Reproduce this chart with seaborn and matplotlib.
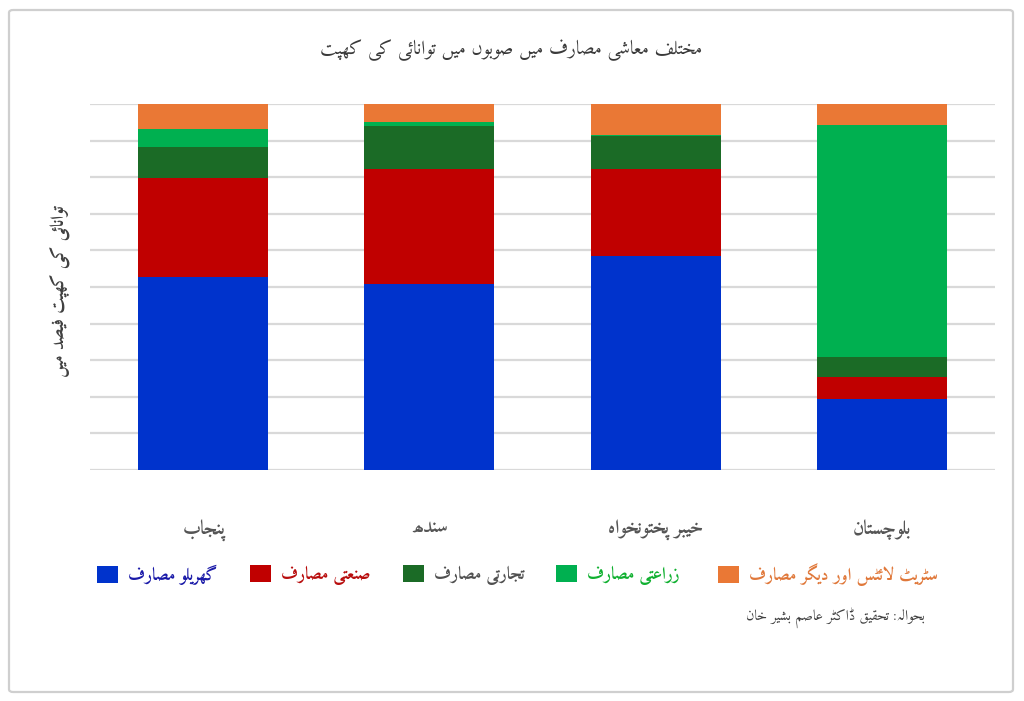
import matplotlib
matplotlib.use("Agg")
import matplotlib.pyplot as plt
from matplotlib.patches import FancyBboxPatch, Patch
import seaborn as sns
import numpy as np

# ---------------- data ----------------
categories = ["پنجاب", "سندھ", "خیبر پختونخواہ", "بلوچستان"]
series_names = ["گھریلو مصارف", "صنعتی مصارف", "تجارتی مصارف", "زراعتی مصارف",
                "سٹریٹ لائٹس اور دیگر مصارف"]
domestic = [52.8, 50.7, 58.6, 19.4]
industrial = [27.1, 31.5, 23.6, 5.9]
commercial = [8.3, 11.8, 9.1, 5.5]
agricultural = [5.1, 1.0, 0.2, 63.5]
other = [6.7, 5.0, 8.5, 5.7]
title = "مختلف معاشی مصارف میں صوبوں میں توانائی کی کھپت"
ylabel = "توانائی کی کھپت فیصد میں"
source = "بحوالہ: تحقیق ڈاکٹر عاصم بشیر خان"

bar_colors = ["#0033cc", "#c00000", "#1b6b26", "#00b050", "#ea7835"]
text_colors = ["#1a1aa8", "#b80d0d", "#505050", "#10b030", "#e0783a"]

# ---------------- minimal Arabic/Urdu shaping (matplotlib has no bidi) ----------------
F = {
    'ا': ('\uFE8D', '\uFE8E'), 'آ': ('\uFE81', '\uFE82'),
    'ب': ('\uFE8F', '\uFE90', '\uFE91', '\uFE92'), 'پ': ('\uFB56', '\uFB57', '\uFB58', '\uFB59'),
    'ت': ('\uFE95', '\uFE96', '\uFE97', '\uFE98'), 'ٹ': ('\uFB66', '\uFB67', '\uFB68', '\uFB69'),
    'ج': ('\uFE9D', '\uFE9E', '\uFE9F', '\uFEA0'), 'چ': ('\uFB7A', '\uFB7B', '\uFB7C', '\uFB7D'),
    'ح': ('\uFEA1', '\uFEA2', '\uFEA3', '\uFEA4'), 'خ': ('\uFEA5', '\uFEA6', '\uFEA7', '\uFEA8'),
    'د': ('\uFEA9', '\uFEAA'), 'ڈ': ('\uFB88', '\uFB89'),
    'ر': ('\uFEAD', '\uFEAE'), 'ڑ': ('\uFB8C', '\uFB8D'), 'ز': ('\uFEAF', '\uFEB0'),
    'س': ('\uFEB1', '\uFEB2', '\uFEB3', '\uFEB4'), 'ش': ('\uFEB5', '\uFEB6', '\uFEB7', '\uFEB8'),
    'ص': ('\uFEB9', '\uFEBA', '\uFEBB', '\uFEBC'), 'ع': ('\uFEC9', '\uFECA', '\uFECB', '\uFECC'),
    'ف': ('\uFED1', '\uFED2', '\uFED3', '\uFED4'), 'ق': ('\uFED5', '\uFED6', '\uFED7', '\uFED8'),
    'ک': ('\uFB8E', '\uFB8F', '\uFB90', '\uFB91'), 'گ': ('\uFB92', '\uFB93', '\uFB94', '\uFB95'),
    'ل': ('\uFEDD', '\uFEDE', '\uFEDF', '\uFEE0'), 'م': ('\uFEE1', '\uFEE2', '\uFEE3', '\uFEE4'),
    'ن': ('\uFEE5', '\uFEE6', '\uFEE7', '\uFEE8'), 'ں': ('\uFB9E', '\uFB9F', '\uFEE7', '\uFEE8'),
    'و': ('\uFEED', '\uFEEE'), 'ھ': ('\uFBAA', '\uFBAB', '\uFBAC', '\uFBAD'),
    'ہ': ('\uFBA6', '\uFBA7', '\uFBA8', '\uFBA9'), 'ی': ('\uFBFC', '\uFBFD', '\uFBFE', '\uFBFF'),
    'ئ': ('\uFE89', '\uFE8A', '\uFE8B', '\uFE8C'), 'ے': ('\uFBAE', '\uFBAF'),
}


def shape(text):
    """Contextual forms in logical order, then reversed to visual (RTL) order."""
    out = []
    i, n = 0, len(text)
    while i < n:
        c = text[i]
        prev = i > 0 and len(F.get(text[i - 1], ())) == 4
        if c == 'ل' and i + 1 < n and text[i + 1] == 'ا':
            out.append('\uFEFC' if prev else '\uFEFB')
            i += 2
            continue
        forms = F.get(c)
        if forms is None:
            out.append(c)
            i += 1
            continue
        nxt = len(forms) == 4 and i + 1 < n and text[i + 1] in F
        idx = 3 if (prev and nxt) else 1 if prev else 2 if nxt else 0
        out.append(forms[idx])
        i += 1
    return "".join(reversed(out))


# ---------------- figure ----------------
sns.set_theme(style="white")
FONT = ["Amiri", "DejaVu Sans"]
plt.rcParams["font.family"] = FONT

fig = plt.figure(figsize=(10.24, 7.01), dpi=100)
fig.patch.set_facecolor("white")
fig.patches.append(FancyBboxPatch((9 / 1024, 9 / 701), 1004 / 1024, 682 / 701,
                                  boxstyle="round,pad=0,rounding_size=0.004",
                                  transform=fig.transFigure, facecolor="none",
                                  edgecolor="#cfcfcf", linewidth=1.6, zorder=0))

ax = fig.add_axes([90 / 1024, 1 - 470 / 701, 905 / 1024, 366 / 701])
ax.set_facecolor("none")

cat_labels = [shape(c) for c in categories]
layers = [domestic, industrial, commercial, agricultural, other]
cum = np.cumsum(np.array(layers), axis=0)
for k in range(len(layers) - 1, -1, -1):
    sns.barplot(x=cat_labels, y=cum[k], color=bar_colors[k], saturation=1,
                width=0.575, ax=ax, zorder=3, linewidth=0)

ax.set_xlim(-0.5, 3.5)
ax.set_ylim(0, 100)
ax.set_yticks(np.arange(0, 101, 10))
ax.set_yticklabels([])
ax.yaxis.grid(True, color="#d9d9d9", linewidth=1.6, zorder=0)
ax.set_axisbelow(True)
for s in ax.spines.values():
    s.set_visible(False)
ax.tick_params(axis="both", length=0)
ax.tick_params(axis="x", pad=35)
for t in ax.get_xticklabels():
    t.set_fontsize(14)
    t.set_fontweight("bold")
    t.set_color("#555555")
ax.set_xlabel("")
ax.set_ylabel(shape(ylabel), fontsize=13, fontweight="bold", color="#404040")
ax.yaxis.set_label_coords(-0.022, 0.49)

fig.text(511 / 1024, 1 - 50 / 701, shape(title), ha="center", va="center",
         fontsize=14, color="#3a3a3a")

# legend: one entry per block, laid out left to right like the reference
sq_x = [97, 250, 403, 556, 718]
fs = 12.5
for k in range(len(series_names)):
    leg = fig.legend([Patch(facecolor=bar_colors[k], edgecolor="none")],
                     [shape(series_names[k])], loc="center left",
                     bbox_to_anchor=(sq_x[k] / 1024, 1 - 575 / 701),
                     frameon=False, borderpad=0, borderaxespad=0,
                     prop={"family": FONT, "size": fs, "weight": "bold"},
                     handlelength=21 / (fs * 100 / 72), handleheight=20 / (fs * 100 / 72),
                     handletextpad=0.55)
    leg.get_texts()[0].set_color(text_colors[k])

fig.text(925 / 1024, 1 - 618 / 701, shape(source), ha="right", va="center",
         fontsize=10.5, color="#404040")

fig.savefig("out.png", dpi=100, facecolor="white")
